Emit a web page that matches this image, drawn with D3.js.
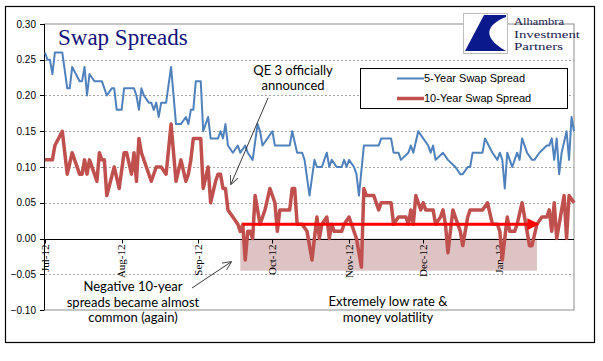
<!DOCTYPE html>
<html lang="en">
<head>
<meta charset="UTF-8">
<title>Swap Spreads</title>
<style>
    body { margin: 0; background: #fff; }
    svg { display: block; }
    .grid line { stroke: #a6a6a6; stroke-dasharray: 2,2; }
    .ylab { font: 10px "Liberation Sans", Arial, sans-serif; fill: #000; }
    .xlab { font: 11px "Liberation Serif", "Times New Roman", serif; fill: #000; }
    .note { font: 13px Lato, "Liberation Sans", sans-serif; fill: #000; }
    .legend text { font: 11px "Liberation Sans", Arial, sans-serif; fill: #000; }
</style>
</head>
<body>
<script src="https://cdn.jsdelivr.net/npm/d3@7"></script>
<script>
// 5-year swap spread
const fiveYear = [
    ["2012-07-01",.26],["2012-07-02",.25],["2012-07-03",.25],["2012-07-04",.23],["2012-07-05",.26],["2012-07-08",.26],
    ["2012-07-10",.21],["2012-07-11",.21],["2012-07-12",.24],["2012-07-15",.22],["2012-07-16",.22],["2012-07-17",.24],
    ["2012-07-18",.20],["2012-07-19",.23],["2012-07-21",.22],["2012-07-24",.22],["2012-07-26",.20],["2012-07-28",.21],
    ["2012-07-29",.21],["2012-07-30",.18],["2012-08-01",.18],["2012-08-02",.21],["2012-08-06",.21],["2012-08-07",.20],
    ["2012-08-08",.18],["2012-08-09",.21],["2012-08-10",.20],["2012-08-12",.19],["2012-08-13",.19],["2012-08-14",.18],
    ["2012-08-15",.19],["2012-08-16",.17],["2012-08-17",.19],["2012-08-19",.19],["2012-08-21",.24],["2012-08-23",.16],
    ["2012-08-25",.16],["2012-08-27",.17],["2012-08-28",.16],["2012-08-29",.18],["2012-08-30",.18],["2012-08-31",.22],
    ["2012-09-02",.22],["2012-09-03",.15],["2012-09-05",.17],["2012-09-06",.14],["2012-09-09",.14],["2012-09-10",.15],
    ["2012-09-11",.14],["2012-09-12",.16],["2012-09-13",.13],["2012-09-15",.12],["2012-09-17",.13],["2012-09-18",.12],
    ["2012-09-20",.13],["2012-09-21",.12],["2012-09-23",.11],["2012-09-25",.16],["2012-09-26",.15],["2012-09-27",.13],
    ["2012-09-29",.14],["2012-10-01",.15],["2012-10-02",.13],["2012-10-04",.13],["2012-10-08",.13],["2012-10-09",.15],
    ["2012-10-11",.12],["2012-10-13",.12],["2012-10-14",.11],["2012-10-16",.06],["2012-10-18",.11],["2012-10-19",.10],
    ["2012-10-21",.10],["2012-10-23",.12],["2012-10-24",.10],["2012-10-25",.11],["2012-10-27",.10],["2012-10-29",.10],
    ["2012-10-30",.11],["2012-10-31",.10],["2012-11-01",.11],["2012-11-03",.10],["2012-11-04",.09],["2012-11-05",.06],
    ["2012-11-07",.13],["2012-11-13",.13],["2012-11-14",.14],["2012-11-18",.14],["2012-11-19",.12],["2012-11-21",.12],
    ["2012-11-22",.11],["2012-11-25",.12],["2012-11-26",.13],["2012-11-27",.12],["2012-11-29",.15],["2012-12-01",.14],
    ["2012-12-03",.13],["2012-12-04",.12],["2012-12-05",.13],["2012-12-06",.11],["2012-12-09",.12],["2012-12-11",.11],
    ["2012-12-14",.10],["2012-12-16",.09],["2012-12-17",.09],["2012-12-19",.10],["2012-12-20",.10],["2012-12-21",.12],
    ["2012-12-25",.12],["2012-12-26",.14],["2012-12-29",.12],["2012-12-31",.11],["2013-01-01",.12],["2013-01-02",.11],
    ["2013-01-03",.07],["2013-01-04",.12],["2013-01-05",.11],["2013-01-06",.10],["2013-01-08",.12],["2013-01-09",.11],
    ["2013-01-10",.14],["2013-01-12",.12],["2013-01-14",.11],["2013-01-15",.11],["2013-01-17",.12],["2013-01-20",.13],
    ["2013-01-21",.13],["2013-01-22",.14],["2013-01-23",.11],["2013-01-24",.14],["2013-01-25",.09],["2013-01-26",.12],
    ["2013-01-28",.15],["2013-01-29",.11],["2013-01-30",.17],["2013-01-31",.15]
];

// 10-year swap spread
const tenYear = [
    ["2012-07-01",.11],["2012-07-04",.11],["2012-07-05",.13],["2012-07-08",.15],["2012-07-10",.09],["2012-07-12",.12],
    ["2012-07-15",.09],["2012-07-16",.09],["2012-07-17",.11],["2012-07-18",.09],["2012-07-19",.11],["2012-07-21",.09],
    ["2012-07-22",.08],["2012-07-23",.12],["2012-07-24",.11],["2012-07-25",.11],["2012-07-26",.06],["2012-07-29",.10],
    ["2012-07-31",.07],["2012-08-02",.12],["2012-08-03",.12],["2012-08-05",.09],["2012-08-06",.12],["2012-08-07",.08],
    ["2012-08-08",.14],["2012-08-09",.12],["2012-08-13",.08],["2012-08-15",.10],["2012-08-17",.10],["2012-08-19",.09],
    ["2012-08-21",.16],["2012-08-23",.08],["2012-08-25",.11],["2012-08-27",.08],["2012-08-28",.09],["2012-08-29",.11],
    ["2012-08-30",.14],["2012-09-02",.14],["2012-09-03",.07],["2012-09-05",.10],["2012-09-06",.05],["2012-09-08",.08],
    ["2012-09-09",.09],["2012-09-10",.09],["2012-09-11",.07],["2012-09-12",.07],["2012-09-13",.04],["2012-09-15",.03],
    ["2012-09-17",.02],["2012-09-18",.01],["2012-09-19",.02],["2012-09-20",-.03],["2012-09-21",.01],["2012-09-22",.01],
    ["2012-09-23",.00],["2012-09-24",.06],["2012-09-26",.02],["2012-09-28",.04],["2012-09-30",.07],["2012-10-02",.05],
    ["2012-10-03",.01],["2012-10-04",.04],["2012-10-08",.04],["2012-10-09",.07],["2012-10-10",.07],["2012-10-11",.02],
    ["2012-10-13",.02],["2012-10-15",.01],["2012-10-17",-.03],["2012-10-19",.03],["2012-10-20",.00],["2012-10-21",.02],
    ["2012-10-23",.03],["2012-10-24",.00],["2012-10-25",.02],["2012-10-26",.01],["2012-10-29",.01],["2012-10-30",.02],
    ["2012-11-01",.03],["2012-11-03",.01],["2012-11-04",.00],["2012-11-05",-.02],["2012-11-06",-.04],["2012-11-07",.07],
    ["2012-11-08",.06],["2012-11-11",.06],["2012-11-13",.04],["2012-11-14",.05],["2012-11-18",.05],["2012-11-19",.02],
    ["2012-11-21",.03],["2012-11-24",.03],["2012-11-25",.02],["2012-11-26",.04],["2012-11-27",.02],["2012-11-28",.06],
    ["2012-11-30",.04],["2012-12-01",.05],["2012-12-02",.04],["2012-12-05",.04],["2012-12-06",.02],["2012-12-08",.03],
    ["2012-12-09",.04],["2012-12-10",.02],["2012-12-11",-.02],["2012-12-13",.04],["2012-12-15",.02],["2012-12-16",.01],
    ["2012-12-17",-.01],["2012-12-18",.01],["2012-12-19",.03],["2012-12-20",.04],["2012-12-25",.04],["2012-12-27",.05],
    ["2012-12-29",.02],["2012-12-31",.02],["2013-01-01",.01],["2013-01-02",-.03],["2013-01-04",.03],["2013-01-05",.01],
    ["2013-01-07",.01],["2013-01-08",.02],["2013-01-10",.05],["2013-01-12",.01],["2013-01-13",-.01],["2013-01-14",-.01],
    ["2013-01-16",.02],["2013-01-18",.03],["2013-01-20",.03],["2013-01-21",.04],["2013-01-22",.01],["2013-01-23",.05],
    ["2013-01-24",.00],["2013-01-26",.04],["2013-01-27",.06],["2013-01-28",.00],["2013-01-29",.06],["2013-01-31",.05]
];

const seriesNames = ["5-Year Swap Spread", "10-Year Swap Spread"];
const monthTicks = ["2012-07-01","2012-08-01","2012-09-01","2012-10-01","2012-11-01","2012-12-01","2013-01-01"];
const yTicks = [0.30, 0.25, 0.20, 0.15, 0.10, 0.05, 0.00, -0.05, -0.10];
const dateRange = ["2012-07-01", "2013-01-31"];
// the shaded band and red arrow: dates and levels
const bandRange = ["2012-09-18", "2013-01-16"];
const bandLevels = [0.00, -0.045];
const arrowRange = ["2012-09-19", "2013-01-16"];
const arrowLevel = 0.02;
const qeNote = ["QE 3 officially", "announced"];
const negNote = ["Negative 10-year", "spreads became almost", "common (again)"];
const lowNote = ["Extremely low rate &", "money volatility"];
const logoLines = ["Alhambra", "Investment", "Partners"];

const W = 603, H = 361;
const parse = d3.timeParse("%Y-%m-%d");
const fmt = d3.timeFormat("%b-%y");

const x = d3.scaleTime().domain(dateRange.map(parse)).range([45, 574]);
const y = d3.scaleLinear().domain([-0.10, 0.30]).range([310, 24]);

const svg = d3.select("body").append("svg").attr("width", W).attr("height", H);

// outer frame
svg.append("rect").attr("x", 5.5).attr("y", 6.5).attr("width", 589).attr("height", 336)
    .attr("fill", "#fff").attr("stroke", "#000").attr("stroke-width", 1.2);

// plot area border
svg.append("rect").attr("x", 44.5).attr("y", y(0.30)).attr("width", 574 - 44.5).attr("height", y(-0.10) - y(0.30))
    .attr("fill", "none").attr("stroke", "#8c8c8c");

// dashed grid
svg.append("g").attr("class", "grid").selectAll("line")
    .data(yTicks.filter(v => v !== 0.30 && v !== -0.10 && v !== 0))
    .join("line")
    .attr("x1", 45).attr("x2", 574)
    .attr("y1", d => Math.round(y(d)) + 0.5).attr("y2", d => Math.round(y(d)) + 0.5);

// shaded band
svg.append("rect")
    .attr("x", x(parse(bandRange[0]))).attr("width", x(parse(bandRange[1])) - x(parse(bandRange[0])))
    .attr("y", y(bandLevels[0])).attr("height", y(bandLevels[1]) - y(bandLevels[0]))
    .attr("fill", "#ddc3c3");

// y axis
const yAxis = svg.append("g");
yAxis.append("line").attr("x1", 44.5).attr("x2", 44.5).attr("y1", y(0.30)).attr("y2", y(-0.10)).attr("stroke", "#000");
yAxis.selectAll(".tk").data(yTicks).join("line")
    .attr("x1", 40).attr("x2", 44.5)
    .attr("y1", d => Math.round(y(d)) + 0.5).attr("y2", d => Math.round(y(d)) + 0.5)
    .attr("stroke", "#000");
yAxis.selectAll("text").data(yTicks).join("text")
    .attr("class", "ylab")
    .attr("x", 36).attr("y", d => y(d)).attr("dy", "0.35em")
    .attr("text-anchor", "end")
    .text(d => d3.format(".2f")(d));

// x axis at zero
const y0 = Math.round(y(0)) + 0.5;
const xAxis = svg.append("g");
xAxis.append("line").attr("x1", 44.5).attr("x2", 574).attr("y1", y0).attr("y2", y0).attr("stroke", "#000");
xAxis.selectAll(".tk").data(monthTicks.map(parse)).join("line")
    .attr("x1", d => Math.round(x(d)) + 0.5).attr("x2", d => Math.round(x(d)) + 0.5)
    .attr("y1", y0).attr("y2", y0 + 4).attr("stroke", "#000");
xAxis.selectAll("text").data(monthTicks.map(parse)).join("text")
    .attr("class", "xlab")
    .attr("transform", d => `translate(${x(d)},${y0 + 5}) rotate(-90)`)
    .attr("text-anchor", "end").attr("dy", "0.33em")
    .text(fmt);

// series
const line = d3.line().x(d => x(parse(d[0]))).y(d => y(d[1]));
svg.append("path").datum(fiveYear).attr("d", line)
    .attr("fill", "none").attr("stroke", "#4f81bd").attr("stroke-width", 2).attr("stroke-linejoin", "round");
svg.append("path").datum(tenYear).attr("d", line)
    .attr("fill", "none").attr("stroke", "#c0504d").attr("stroke-width", 3.5).attr("stroke-linejoin", "round");

// red horizontal arrow
const defs = svg.append("defs");
defs.append("marker").attr("id", "redhead").attr("viewBox", "0 -5 10 10")
    .attr("refX", 8).attr("refY", 0).attr("markerWidth", 4).attr("markerHeight", 4)
    .attr("markerUnits", "strokeWidth").attr("orient", "auto")
    .append("path").attr("d", "M0,-5L10,0L0,5Z").attr("fill", "#ff0000");
defs.append("marker").attr("id", "openhead").attr("viewBox", "0 -5 10 10")
    .attr("refX", 9).attr("refY", 0).attr("markerWidth", 9).attr("markerHeight", 9)
    .attr("markerUnits", "userSpaceOnUse").attr("orient", "auto")
    .append("path").attr("d", "M0,-4.5L10,0L0,4.5").attr("fill", "none").attr("stroke", "#444").attr("stroke-width", 1);

svg.append("line")
    .attr("x1", x(parse(arrowRange[0]))).attr("x2", x(parse(arrowRange[1])))
    .attr("y1", y(arrowLevel)).attr("y2", y(arrowLevel))
    .attr("stroke", "#ff0000").attr("stroke-width", 3).attr("marker-end", "url(#redhead)");

// annotations
svg.append("line").attr("x1", 268).attr("y1", 98).attr("x2", 231).attr("y2", 184)
    .attr("stroke", "#222").attr("stroke-width", 0.9).attr("marker-end", "url(#openhead)");
svg.append("line").attr("x1", 192).attr("y1", 288).attr("x2", 231).attr("y2", 262)
    .attr("stroke", "#222").attr("stroke-width", 0.9).attr("marker-end", "url(#openhead)");

function note(lines, cx, y1, lh) {
    svg.append("g").selectAll("text").data(lines).join("text")
        .attr("class", "note").attr("text-anchor", "middle")
        .attr("x", cx).attr("y", (d, i) => y1 + i * lh).text(d => d);
}
note(qeNote, 293, 75, 14.5);
note(negNote, 133, 291, 15.5);
note(lowNote, 388, 306, 15.5);

// legend
const lg = svg.append("g").attr("class", "legend");
lg.append("rect").attr("x", 360.5).attr("y", 68.5).attr("width", 207).attr("height", 40)
    .attr("fill", "#fff").attr("stroke", "#000");
const lgColors = ["#4f81bd", "#c0504d"], lgWidths = [2, 3.5];
seriesNames.forEach((name, i) => {
    const ly = 78.5 + i * 20;
    lg.append("line").attr("x1", 397).attr("x2", 424).attr("y1", ly).attr("y2", ly)
        .attr("stroke", lgColors[i]).attr("stroke-width", lgWidths[i]);
    lg.append("text").attr("x", 424).attr("y", ly).attr("dy", "0.36em").text(name);
});

// title
svg.append("text").attr("x", 58).attr("y", 45)
    .style("font", "23px 'Liberation Serif', 'Times New Roman', serif").attr("fill", "#12127a")
    .text("Swap Spreads");

// logo
const logo = svg.append("g");
logo.append("rect").attr("x", 463.5).attr("y", 13.5).attr("width", 44).attr("height", 40)
    .attr("fill", "#fff").attr("stroke", "#bdbdbd");
logo.append("path")
    .attr("d", "M484,15 L506,15 L506,17 C488,24 480,36 506,51 L465,51 Z")
    .attr("fill", "#0a1a8c");
logo.selectAll("text").data(logoLines).join("text")
    .attr("x", 514).attr("y", (d, i) => 25 + i * 12.5)
    .style("font", "11.2px 'Liberation Serif', 'Times New Roman', serif").attr("fill", "#1b1b4f")
    .attr("textLength", (d, i) => [50, 66, 49][i]).attr("lengthAdjust", "spacingAndGlyphs")
    .text(d => d);
</script>
</body>
</html>
